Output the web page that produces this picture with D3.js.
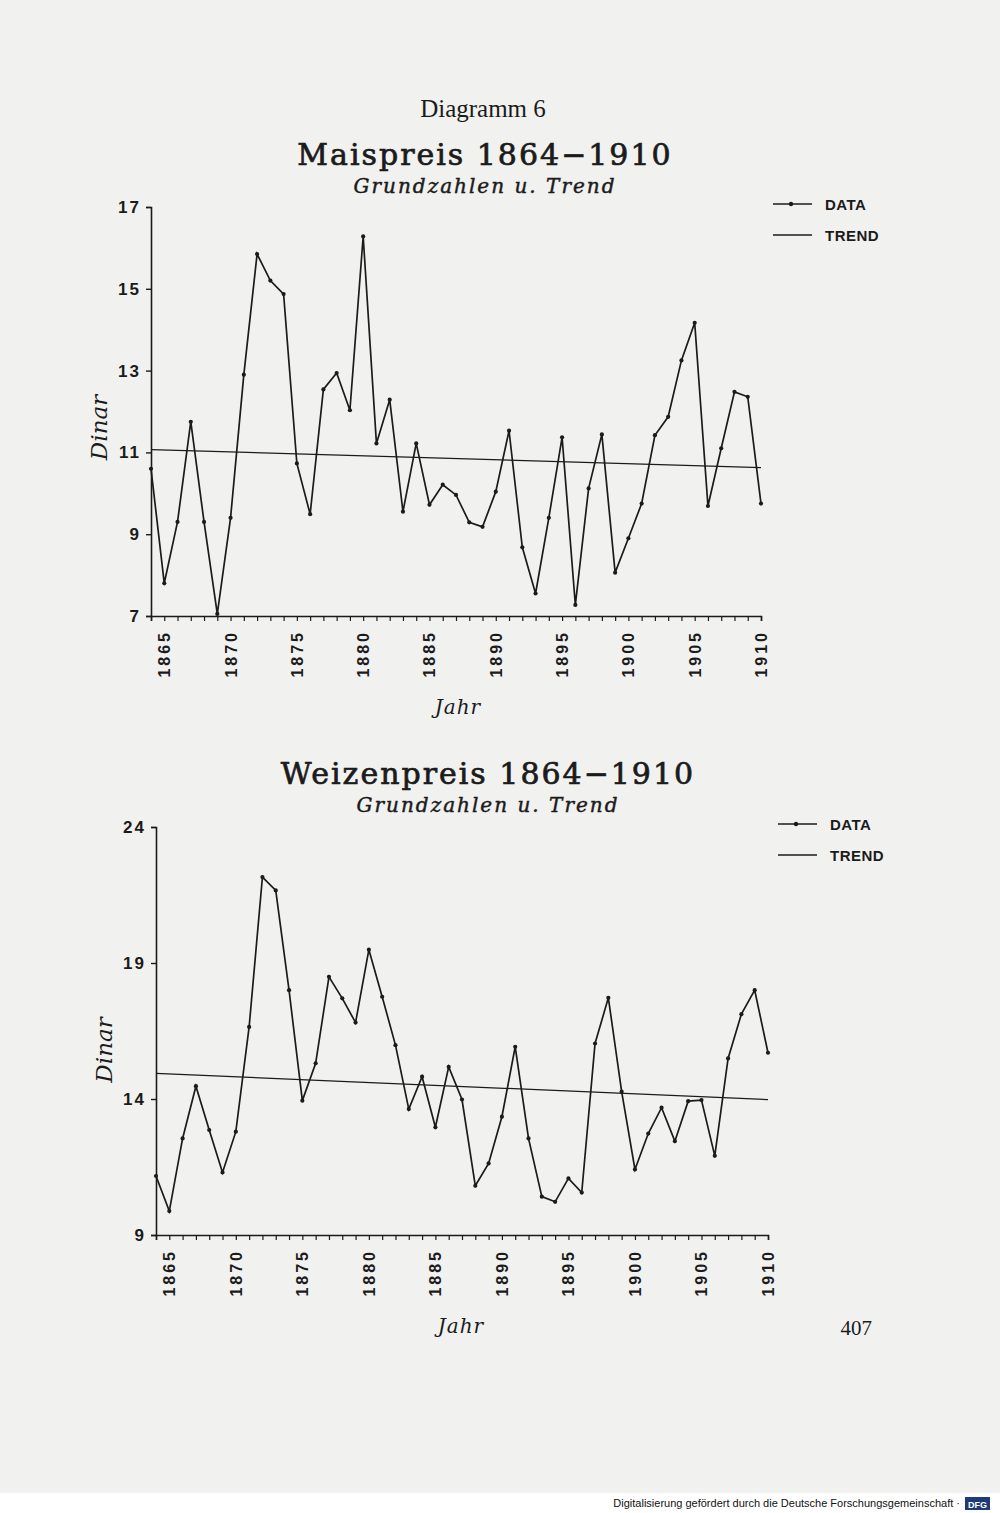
<!DOCTYPE html>
<html>
<head>
<meta charset="utf-8">
<script src="https://cdn.jsdelivr.net/npm/d3@7"></script>
<style>
  html, body { margin: 0; padding: 0; background: #f1f1f0; }
  svg { display: block; }
</style>
</head>
<body>
<svg id="page"></svg>
<script>

var years = d3.range(1864, 1911);

// Maispreis, Dinar
var maisValues = [10.6, 7.8, 9.3, 11.75, 9.3, 7.05, 9.4, 12.9, 15.85, 15.2,
                  14.87, 10.73, 9.49, 12.54, 12.94, 12.03, 16.28, 11.22, 12.29, 9.55,
                  11.22, 9.72, 10.21, 9.96, 9.29, 9.18, 10.04, 11.53, 8.68, 7.55,
                  9.4, 11.37, 7.27, 10.12, 11.44, 8.06, 8.9, 9.75, 11.42, 11.87,
                  13.25, 14.17, 9.69, 11.1, 12.48, 12.36, 9.75];
var maisTrend = [11.07, 10.63];
var maisTicks = [7, 9, 11, 13, 15, 17];

// Weizenpreis, Dinar
var weizenValues = [11.17, 9.88, 12.55, 14.47, 12.86, 11.3, 12.8, 16.65, 22.16, 21.67,
                    18.0, 13.94, 15.31, 18.49, 17.7, 16.81, 19.49, 17.76, 15.98, 13.63,
                    14.82, 12.96, 15.18, 13.98, 10.81, 11.63, 13.35, 15.92, 12.55, 10.41,
                    10.22, 11.08, 10.56, 16.04, 17.72, 14.27, 11.41, 12.73, 13.68, 12.45,
                    13.92, 13.96, 11.91, 15.49, 17.12, 18.0, 15.7];
var weizenTrend = [14.94, 13.98];
var weizenTicks = [9, 14, 19, 24];

var yearLabels = [1865, 1870, 1875, 1880, 1885, 1890, 1895, 1900, 1905, 1910];

var W = 1000, H = 1513;
var ink = "#1b1b1b";
var sans = "'Liberation Sans', Arial, sans-serif";
var serif = "'DejaVu Serif', serif";

var svg = d3.select("#page").attr("width", W).attr("height", H);

svg.append("text")
    .attr("x", 483).attr("y", 117)
    .attr("text-anchor", "middle")
    .attr("font-family", "'Liberation Serif', serif")
    .attr("font-size", 25)
    .attr("fill", ink)
    .text("Diagramm 6");

function drawChart(opt) {
    var x = d3.scaleLinear().domain([1864, 1910]).range([opt.left, opt.right]);
    var y = d3.scaleLinear().domain(opt.domain).range([opt.bottom, opt.top]);

    var g = svg.append("g");

    g.append("text")
        .attr("x", opt.cx).attr("y", opt.titleY)
        .attr("text-anchor", "middle")
        .attr("font-family", serif)
        .attr("font-size", 30)
        .attr("letter-spacing", 2)
        .attr("fill", ink)
        .attr("stroke", ink).attr("stroke-width", 0.7)
        .text(opt.title);

    g.append("text")
        .attr("x", opt.cx).attr("y", opt.titleY + 28)
        .attr("text-anchor", "middle")
        .attr("font-family", serif)
        .attr("font-style", "italic")
        .attr("font-size", 20)
        .attr("letter-spacing", 2)
        .attr("fill", ink)
        .attr("stroke", ink).attr("stroke-width", 0.45)
        .text("Grundzahlen u. Trend");

    // axes
    var yAxis = d3.axisLeft(y).tickValues(opt.ticks).tickSize(5).tickPadding(5);
    var ya = g.append("g").attr("transform", "translate(" + opt.left + ",0)").call(yAxis);
    ya.select(".domain").attr("stroke", ink).attr("stroke-width", 1.6);
    ya.selectAll(".tick line").attr("stroke", ink).attr("stroke-width", 1.4);
    ya.selectAll(".tick text")
        .attr("font-family", sans).attr("font-weight", "bold")
        .attr("font-size", 17).attr("letter-spacing", 2).attr("fill", ink);

    var xAxis = d3.axisBottom(x).tickValues(years).tickSize(5).tickFormat("");
    var xa = g.append("g").attr("transform", "translate(0," + opt.bottom + ")").call(xAxis);
    xa.select(".domain").attr("stroke", ink).attr("stroke-width", 1.6);
    xa.selectAll(".tick line").attr("stroke", ink).attr("stroke-width", 1.2);

    g.selectAll(".ylab")
        .data(yearLabels)
        .enter()
        .append("text")
        .attr("class", "ylab")
        .attr("transform", function(d) { return "translate(" + (x(d) + 6) + "," + (opt.bottom + 14) + ") rotate(-90)"; })
        .attr("text-anchor", "end")
        .attr("font-family", sans).attr("font-weight", "bold")
        .attr("font-size", 16).attr("letter-spacing", 3).attr("fill", ink)
        .text(function(d) { return d; });

    g.append("text")
        .attr("transform", "translate(" + (opt.left - 44) + "," + ((opt.top + opt.bottom) / 2 + opt.dinarShift) + ") rotate(-90)")
        .attr("text-anchor", "middle")
        .attr("font-family", serif).attr("font-style", "italic")
        .attr("font-size", 23).attr("fill", ink)
        .text("Dinar");

    g.append("text")
        .attr("x", opt.jahrX).attr("y", opt.bottom + 98)
        .attr("text-anchor", "middle")
        .attr("font-family", serif).attr("font-style", "italic")
        .attr("font-size", 20).attr("letter-spacing", 1)
        .attr("fill", ink)
        .text("Jahr");

    // trend
    g.append("line")
        .attr("x1", x(1864)).attr("y1", y(opt.trend[0]))
        .attr("x2", x(1910)).attr("y2", y(opt.trend[1]))
        .attr("stroke", ink).attr("stroke-width", 1.3);

    // data
    var line = d3.line()
        .x(function(d, i) { return x(years[i]); })
        .y(function(d) { return y(d); });

    g.append("path")
        .datum(opt.values)
        .attr("d", line)
        .attr("fill", "none")
        .attr("stroke", ink)
        .attr("stroke-width", 1.7)
        .attr("stroke-linejoin", "miter");

    g.selectAll(".pt")
        .data(opt.values)
        .enter()
        .append("circle")
        .attr("class", "pt")
        .attr("cx", function(d, i) { return x(years[i]); })
        .attr("cy", function(d) { return y(d); })
        .attr("r", 2.1)
        .attr("fill", ink);

    // legend
    var lg = g.append("g").attr("transform", "translate(" + opt.legX + "," + opt.legY + ")");
    lg.append("line").attr("x1", 0).attr("x2", 39).attr("y1", 0).attr("y2", 0)
        .attr("stroke", ink).attr("stroke-width", 1.3);
    lg.append("circle").attr("cx", 18).attr("cy", 0).attr("r", 2.2).attr("fill", ink);
    lg.append("line").attr("x1", 0).attr("x2", 39).attr("y1", 31).attr("y2", 31)
        .attr("stroke", ink).attr("stroke-width", 1.3);
    lg.selectAll(".lt")
        .data(["DATA", "TREND"])
        .enter()
        .append("text")
        .attr("x", 52)
        .attr("y", function(d, i) { return i * 31 + 6; })
        .attr("font-family", sans).attr("font-weight", "bold")
        .attr("font-size", 15).attr("letter-spacing", 0.5).attr("fill", ink)
        .text(function(d) { return d; });
}

drawChart({
    title: "Maispreis 1864\u22121910",
    values: maisValues, trend: maisTrend, ticks: maisTicks, domain: [7, 17],
    left: 151, right: 761, top: 207, bottom: 616,
    cx: 485, titleY: 165, jahrX: 458, dinarShift: 16,
    legX: 773, legY: 204
});

drawChart({
    title: "Weizenpreis 1864\u22121910",
    values: weizenValues, trend: weizenTrend, ticks: weizenTicks, domain: [9, 24],
    left: 156, right: 768, top: 827, bottom: 1235,
    cx: 488, titleY: 784, jahrX: 461, dinarShift: 19,
    legX: 778, legY: 824
});

svg.append("text")
    .attr("x", 872).attr("y", 1335)
    .attr("text-anchor", "end")
    .attr("font-family", "'Liberation Serif', serif")
    .attr("font-size", 21)
    .attr("fill", ink)
    .text("407");

// footer
svg.append("rect").attr("x", 0).attr("y", 1493).attr("width", W).attr("height", 20).attr("fill", "#ffffff");
svg.append("text")
    .attr("x", 960).attr("y", 1507)
    .attr("text-anchor", "end")
    .attr("font-family", sans)
    .attr("font-size", 11)
    .attr("fill", "#111")
    .text("Digitalisierung gefördert durch die Deutsche Forschungsgemeinschaft \u00b7");
svg.append("rect").attr("x", 965).attr("y", 1497).attr("width", 25).attr("height", 13).attr("fill", "#1d3b78");
svg.append("text")
    .attr("x", 977.5).attr("y", 1507.5)
    .attr("text-anchor", "middle")
    .attr("font-family", sans).attr("font-weight", "bold")
    .attr("font-size", 9).attr("fill", "#ffffff")
    .text("DFG");

</script>
</body>
</html>
